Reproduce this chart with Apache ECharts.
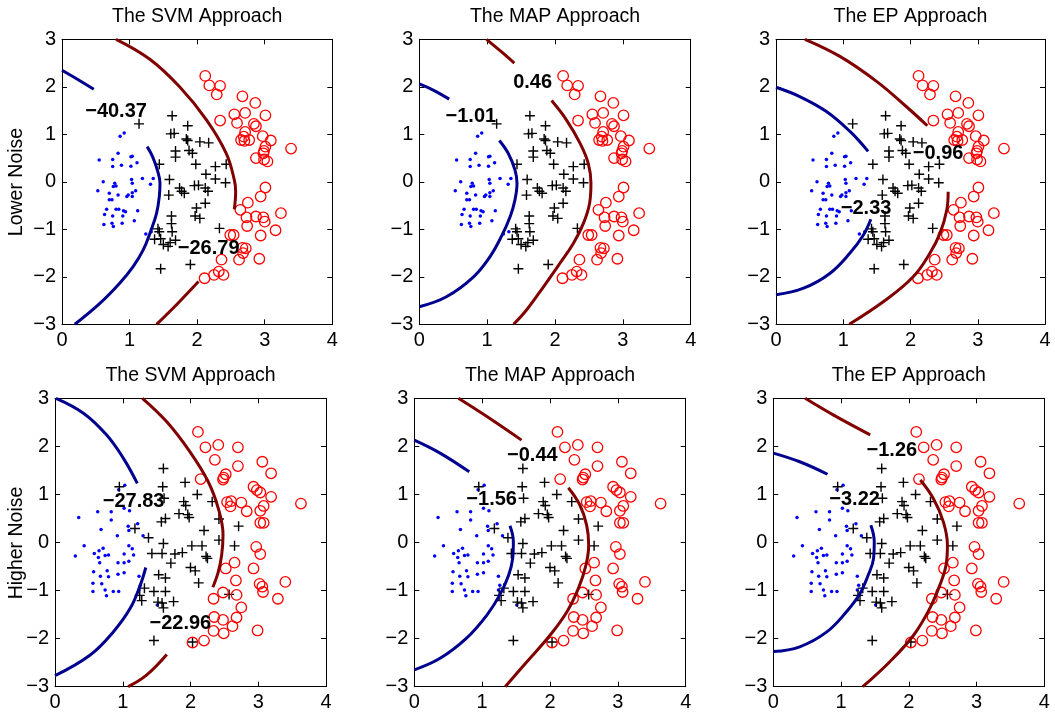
<!DOCTYPE html>
<html><head><meta charset="utf-8">
<script src="https://cdn.jsdelivr.net/npm/echarts@6/dist/echarts.min.js"></script>
<style>html,body{margin:0;padding:0;background:#fff}#c{width:1055px;height:713px}</style>
</head><body><div id="c"></div>
<script>
// ---------- data: points (same data set for the three approaches in a row) ----------
const topBlue = [[0.86,0.96],[0.92,1.03],[0.55,0.46],[0.75,0.47],[0.83,0.6],[1.02,0.53],[1.04,0.54],[0.88,0.35],[0.75,0.32],[1.02,0.33],[1.11,0.4],[1.19,0.07],[1.03,0.05],[1.35,0.07],[1.31,-0.05],[0.61,0.0],[0.78,-0.03],[0.76,-0.1],[0.8,-0.09],[1.04,-0.03],[0.53,-0.19],[0.7,-0.24],[0.83,-0.28],[0.96,-0.31],[0.98,-0.28],[1.04,-0.23],[1.09,-0.19],[1.04,-0.31],[0.7,-0.38],[0.74,-0.38],[0.66,-0.58],[0.8,-0.58],[0.84,-0.58],[0.91,-0.61],[0.94,-0.63],[1.12,-0.61],[0.63,-0.69],[0.75,-0.72],[0.9,-0.72],[0.62,-0.9],[0.74,-0.87],[0.76,-0.94],[0.89,-0.87],[1.07,-0.82],[1.24,-1.1],[1.32,-1.05]];
const topPlus = [[1.14,1.22],[1.63,1.39],[1.86,1.18],[1.61,1.01],[1.66,1.02],[1.84,0.9],[1.86,0.87],[2.04,0.84],[2.17,0.82],[1.68,0.65],[1.68,0.52],[1.88,0.66],[1.93,0.6],[1.44,0.37],[1.98,0.37],[2.27,0.32],[2.43,0.37],[2.13,0.16],[1.59,0.05],[2.27,0.06],[2.42,-0.02],[1.58,-0.28],[1.74,-0.13],[1.77,-0.2],[1.81,-0.24],[1.96,-0.08],[2.02,-0.07],[2.12,-0.13],[2.16,-0.2],[2.12,-0.45],[1.99,-0.55],[1.97,-0.72],[2.04,-0.77],[1.62,-0.72],[1.62,-0.88],[2.33,-0.98],[1.42,-0.99],[1.44,-1.05],[1.63,-1.05],[1.37,-1.21],[1.46,-1.2],[1.5,-1.32],[1.6,-1.28],[1.68,-1.23],[1.57,-1.36],[1.46,-1.83],[1.9,-1.74]];
const topRed = [[2.12,2.23],[2.18,2.03],[2.34,2.02],[2.29,1.84],[2.67,1.8],[2.86,1.66],[2.55,1.42],[2.71,1.45],[3.01,1.4],[2.34,1.29],[2.59,1.24],[2.84,1.22],[2.87,1.17],[2.71,1.05],[2.69,0.95],[2.65,0.88],[2.7,0.86],[2.77,0.88],[2.97,0.96],[3.09,0.87],[3.01,0.74],[2.99,0.65],[2.98,0.6],[3.39,0.7],[2.87,0.5],[2.99,0.47],[3.04,0.43],[3.01,-0.12],[2.94,-0.31],[2.75,-0.44],[2.64,-0.59],[2.87,-0.73],[2.98,-0.75],[2.73,-0.75],[3.0,-0.84],[2.74,-0.93],[3.24,-0.66],[3.16,-1.02],[2.94,-1.13],[2.49,-1.12],[2.54,-1.12],[2.67,-1.39],[2.72,-1.4],[2.68,-1.5],[2.62,-1.64],[2.36,-1.64],[2.92,-1.62],[2.11,-2.03],[2.25,-1.96],[2.32,-1.89],[2.39,-1.96]];

const botBlue = [[0.35,0.52],[0.63,0.64],[0.83,0.64],[1.02,0.71],[1.1,0.66],[0.83,0.47],[0.68,0.27],[0.92,0.14],[1.08,0.34],[1.09,0.25],[1.22,0.39],[1.3,0.14],[0.43,-0.07],[0.71,-0.12],[0.65,-0.17],[0.58,-0.23],[0.64,-0.31],[0.66,-0.42],[0.74,-0.27],[0.79,-0.26],[0.3,-0.28],[1.09,-0.07],[1.14,-0.13],[1.02,-0.24],[1.16,-0.26],[1.09,-0.39],[0.93,-0.42],[1.02,-0.42],[0.57,-0.61],[0.67,-0.7],[0.77,-0.59],[0.79,-0.71],[0.93,-0.66],[1.02,-0.63],[1.24,-0.7],[0.56,-0.85],[0.69,-0.86],[0.56,-1.02],[0.74,-0.99],[0.86,-1.02],[0.94,-1.02],[0.76,-1.11],[1.26,-0.89],[1.24,-0.99],[1.51,-1.3],[0.94,1.1],[1.03,1.19]];
const botPlus = [[0.95,1.16],[1.6,1.54],[1.59,1.16],[1.61,0.92],[1.92,1.25],[1.9,0.85],[1.93,0.77],[2.1,1.0],[2.32,0.85],[1.83,0.6],[1.96,0.58],[1.98,0.52],[1.63,0.5],[1.57,0.43],[1.18,0.29],[2.2,0.25],[2.42,0.49],[2.71,0.34],[1.38,0.1],[1.6,-0.02],[2.42,0.05],[2.65,-0.07],[1.43,-0.23],[1.58,-0.23],[1.77,-0.24],[1.88,-0.21],[2.02,-0.07],[2.17,-0.07],[2.23,-0.29],[2.25,-0.33],[1.71,-0.43],[1.53,-0.67],[1.63,-0.74],[2.0,-0.52],[2.07,-0.59],[2.12,-0.84],[1.32,-0.95],[1.25,-1.1],[1.28,-1.21],[1.46,-1.02],[1.63,-1.02],[1.52,-1.24],[1.58,-1.26],[1.75,-1.23],[1.6,-1.36],[2.57,-1.08],[1.46,-2.04],[2.03,-2.07]];
const botRed = [[2.11,2.3],[2.22,1.98],[2.41,2.03],[2.7,1.98],[2.36,1.72],[2.7,1.59],[3.06,1.68],[3.19,1.44],[2.15,1.32],[2.52,1.42],[2.49,1.35],[2.48,1.31],[2.93,1.16],[2.98,1.09],[3.03,1.04],[3.19,0.95],[2.54,0.84],[2.6,0.86],[2.59,0.75],[2.75,0.83],[2.83,0.65],[3.08,0.76],[3.03,0.66],[3.03,0.41],[3.08,0.41],[3.63,0.81],[2.97,-0.09],[3.03,-0.24],[2.52,-0.54],[2.65,-0.42],[2.93,-0.54],[2.67,-0.79],[3.02,-0.86],[3.06,-0.92],[3.07,-1.03],[3.4,-0.82],[3.29,-1.17],[2.48,-1.04],[2.34,-1.17],[2.68,-1.09],[2.75,-1.35],[2.35,-1.55],[2.48,-1.61],[2.68,-1.56],[2.62,-1.74],[2.99,-1.83],[2.34,-1.84],[2.49,-1.89],[2.2,-2.04],[2.03,-2.08]];

// ---------- data: contour segments ----------
const svmLoBlue1 = [[0,2.35],[0.24,2.15],[0.47,1.95]];
const svmLoBlue2 = [[1.26,0.74],[1.34,0.53],[1.41,0.25],[1.45,-0.03],[1.44,-0.31],[1.4,-0.66],[1.32,-1.01],[1.2,-1.44],[1.05,-1.79],[0.85,-2.14],[0.56,-2.56],[0.19,-3.0]];
const svmLoRed1 = [[0.8,3.0],[1.3,2.58],[1.74,2.0],[2.14,1.3],[2.43,0.6],[2.55,0.04],[2.57,-0.21],[2.55,-0.58]];
const svmLoRed2 = [[2.02,-2.1],[1.72,-2.55],[1.4,-3.0]];
const mapLoBlue1 = [[0,2.06],[0.22,1.92],[0.44,1.74]];
const mapLoBlue2 = [[1.18,0.87],[1.31,0.6],[1.41,0.25],[1.44,-0.03],[1.41,-0.38],[1.34,-0.73],[1.21,-1.15],[1.04,-1.58],[0.8,-2.0],[0.4,-2.42],[0,-2.63]];
const mapLoRed1 = [[0.99,3.0],[1.2,2.75],[1.4,2.5]];
const mapLoRed2 = [[1.95,1.71],[2.17,1.3],[2.37,0.81],[2.49,0.39],[2.53,-0.03],[2.51,-0.45],[2.42,-0.87],[2.27,-1.3],[2.07,-1.72],[1.83,-2.21],[1.58,-2.7],[1.39,-3.0]];
const epLoBlue1 = [[0,1.99],[0.36,1.79],[0.75,1.48],[1.1,1.06],[1.37,0.64]];
const epLoBlue2 = [[1.41,-0.79],[1.3,-1.12],[1.1,-1.5],[0.8,-1.93],[0.41,-2.24],[0,-2.38]];
const epLoRed1 = [[0.43,3.0],[0.95,2.64],[1.5,2.11],[1.94,1.58],[2.25,1.18]];
const epLoRed2 = [[2.56,-0.21],[2.54,-0.59],[2.44,-1.08],[2.29,-1.5],[2.04,-2.0],[1.62,-2.5],[1.09,-3.0]];
const svmHiBlue1 = [[0.015,3.0],[0.42,2.69],[0.76,2.24],[1.01,1.75],[1.215,1.23]];
const svmHiBlue2 = [[1.34,-0.52],[1.26,-0.88],[1.11,-1.37],[0.86,-1.86],[0.52,-2.34],[0,-2.77]];
const svmHiRed1 = [[1.29,3.0],[1.65,2.51],[1.99,1.89],[2.26,1.27],[2.41,0.71],[2.48,0.16],[2.46,-0.26],[2.41,-0.61],[2.33,-0.93]];
const svmHiRed2 = [[1.65,-2.33],[1.35,-2.76],[1.08,-3.0]];
const mapHiBlue1 = [[0,2.13],[0.38,1.86],[0.81,1.47]];
const mapHiBlue2 = [[1.41,0.35],[1.46,0.02],[1.45,-0.33],[1.39,-0.68],[1.26,-1.09],[1.07,-1.51],[0.77,-1.99],[0.38,-2.41],[0,-2.65]];
const mapHiRed1 = [[0.65,3.0],[1.07,2.62],[1.58,2.13]];
const mapHiRed2 = [[2.27,1.14],[2.44,0.78],[2.54,0.36],[2.57,-0.05],[2.53,-0.47],[2.42,-0.95],[2.25,-1.44],[2.0,-1.93],[1.66,-2.48],[1.34,-3.0]];
const epHiBlue1 = [[0,1.86],[0.39,1.68],[0.8,1.42]];
const epHiBlue2 = [[1.44,0.36],[1.49,0.02],[1.48,-0.33],[1.4,-0.68],[1.28,-1.06],[1.08,-1.44],[0.79,-1.86],[0.39,-2.17],[0,-2.27]];
const epHiRed1 = [[0.47,3.0],[0.89,2.65],[1.43,2.24]];
const epHiRed2 = [[2.17,1.3],[2.36,0.92],[2.51,0.43],[2.57,-0.05],[2.55,-0.47],[2.46,-0.88],[2.31,-1.37],[2.07,-1.93],[1.72,-2.48],[1.32,-3.0]];

// ---------- data: contour labels [text, x, y] ----------
const svmLoLabels = [['\u221240.37',0.8,1.49],['\u221226.79',2.17,-1.41]];
const mapLoLabels = [['\u22121.01',0.76,1.37],['0.46',1.67,2.09]];
const epLoLabels = [['\u22120.96',2.41,0.6],['\u22122.33',1.34,-0.56]];
const svmHiLabels = [['\u221227.83',1.16,0.85],['\u221222.96',1.85,-1.69]];
const mapHiLabels = [['\u22121.56',1.14,0.9],['\u22120.44',1.74,1.82]];
const epHiLabels = [['\u22123.22',1.2,0.9],['\u22121.26',1.75,1.92]];

const titles = ['The SVM Approach','The MAP Approach','The EP Approach','The SVM Approach','The MAP Approach','The EP Approach'];
const rowNames = ['Lower Noise','Higher Noise'];
const xTicks = [0,1,2,3,4];
const yTicks = [-3,-2,-1,0,1,2,3];

// ---------- layout ----------
const FONT = '"Liberation Sans", Arial, Helvetica, sans-serif';
const BLUE_LINE = '#00008f', RED_LINE = '#800000';
const grids = [
  {left:62, top:39.3, width:270.3, height:285},
  {left:419.3, top:39.3, width:271.4, height:285},
  {left:776, top:39.3, width:269, height:285},
  {left:55, top:398.3, width:271, height:288.4},
  {left:414.3, top:398.3, width:271.4, height:288.4},
  {left:773.3, top:398.3, width:271, height:288.4}
];
const panels = [
  {pts:[topBlue,topPlus,topRed], blue:[svmLoBlue1,svmLoBlue2], red:[svmLoRed1,svmLoRed2], labels:svmLoLabels},
  {pts:[topBlue,topPlus,topRed], blue:[mapLoBlue1,mapLoBlue2], red:[mapLoRed1,mapLoRed2], labels:mapLoLabels},
  {pts:[topBlue,topPlus,topRed], blue:[epLoBlue1,epLoBlue2], red:[epLoRed1,epLoRed2], labels:epLoLabels},
  {pts:[botBlue,botPlus,botRed], blue:[svmHiBlue1,svmHiBlue2], red:[svmHiRed1,svmHiRed2], labels:svmHiLabels},
  {pts:[botBlue,botPlus,botRed], blue:[mapHiBlue1,mapHiBlue2], red:[mapHiRed1,mapHiRed2], labels:mapHiLabels},
  {pts:[botBlue,botPlus,botRed], blue:[epHiBlue1,epHiBlue2], red:[epHiRed1,epHiRed2], labels:epHiLabels}
];
function fmt(v){ return v < 0 ? '\u2212' + Math.abs(v) : String(v); }

const xAxis = [], yAxis = [], series = [], graphic = [];
grids.forEach((g, i) => {
  const line = {show:true, onZero:false, lineStyle:{color:'#000', width:1}};
  const tick = {show:true, inside:true, length:5, lineStyle:{color:'#000', width:1}};
  const lab = {show:true, fontSize:20, color:'#000', fontFamily:FONT, margin:6, formatter:fmt};
  const xmin = xTicks[0], xmax = xTicks[xTicks.length-1];
  const ymin = yTicks[0], ymax = yTicks[yTicks.length-1];
  xAxis.push({gridIndex:i, type:'value', min:xmin, max:xmax, interval:1, position:'bottom', axisLine:line, axisTick:tick, axisLabel:lab, splitLine:{show:false}});
  xAxis.push({gridIndex:i, type:'value', min:xmin, max:xmax, interval:1, position:'top', axisLine:line, axisTick:tick, axisLabel:{show:false}, splitLine:{show:false}});
  yAxis.push({gridIndex:i, type:'value', min:ymin, max:ymax, interval:1, position:'left', axisLine:line, axisTick:tick, axisLabel:lab, splitLine:{show:false}});
  yAxis.push({gridIndex:i, type:'value', min:ymin, max:ymax, interval:1, position:'right', axisLine:line, axisTick:tick, axisLabel:{show:false}, splitLine:{show:false}});
  const p = panels[i];
  const ax = {xAxisIndex:2*i, yAxisIndex:2*i, silent:true, animation:false};
  series.push(Object.assign({type:'scatter', data:p.pts[0], symbol:'circle', symbolSize:3.5, itemStyle:{color:'#0000ff', opacity:1}, z:2}, ax));
  series.push(Object.assign({type:'scatter', data:p.pts[1], symbol:'path://M5,0L5,10M0,5L10,5', symbolSize:10, itemStyle:{color:'transparent', borderColor:'#000', borderWidth:1.4, opacity:1}, z:2}, ax));
  series.push(Object.assign({type:'scatter', data:p.pts[2], symbol:'circle', symbolSize:10.5, itemStyle:{color:'transparent', borderColor:'#ff0000', borderWidth:1.3, opacity:1}, z:2}, ax));
  p.blue.forEach(seg => series.push(Object.assign({type:'line', data:seg, showSymbol:false, symbol:'none', smooth:0.4, clip:true, lineStyle:{color:BLUE_LINE, width:3, opacity:1}, z:3}, ax)));
  p.red.forEach(seg => series.push(Object.assign({type:'line', data:seg, showSymbol:false, symbol:'none', smooth:0.4, clip:true, lineStyle:{color:RED_LINE, width:3, opacity:1}, z:3}, ax)));
  series.push(Object.assign({type:'scatter', data:p.labels.map(l => ({name:l[0], value:[l[1], l[2]]})), symbolSize:1, itemStyle:{color:'transparent', opacity:1}, z:5,
    label:{show:true, position:'inside', formatter:'{b}', fontSize:20, fontWeight:'bold', color:'#000', opacity:1, fontFamily:FONT}}, ax));
  graphic.push({type:'text', x:g.left + g.width/2, y:g.top - 23, z:10,
    style:{text:titles[i], fontSize:19.5, fontFamily:FONT, fill:'#000', textAlign:'center', textVerticalAlign:'middle', align:'center', verticalAlign:'middle'}});
});
graphic.push({type:'text', x:17, y:182, rotation:Math.PI/2, style:{text:rowNames[0], fontSize:19.5, fontFamily:FONT, fill:'#000', textAlign:'center', textVerticalAlign:'middle', align:'center', verticalAlign:'middle'}});
graphic.push({type:'text', x:17, y:543, rotation:Math.PI/2, style:{text:rowNames[1], fontSize:19.5, fontFamily:FONT, fill:'#000', textAlign:'center', textVerticalAlign:'middle', align:'center', verticalAlign:'middle'}});

const chart = echarts.init(document.getElementById('c'), null, {renderer:'canvas'});
chart.setOption({
  animation:false,
  backgroundColor:'#fff',
  grid: grids.map(g => Object.assign({containLabel:false, outerBoundsMode:'none'}, g)),
  xAxis, yAxis, series, graphic
});
</script></body></html>
